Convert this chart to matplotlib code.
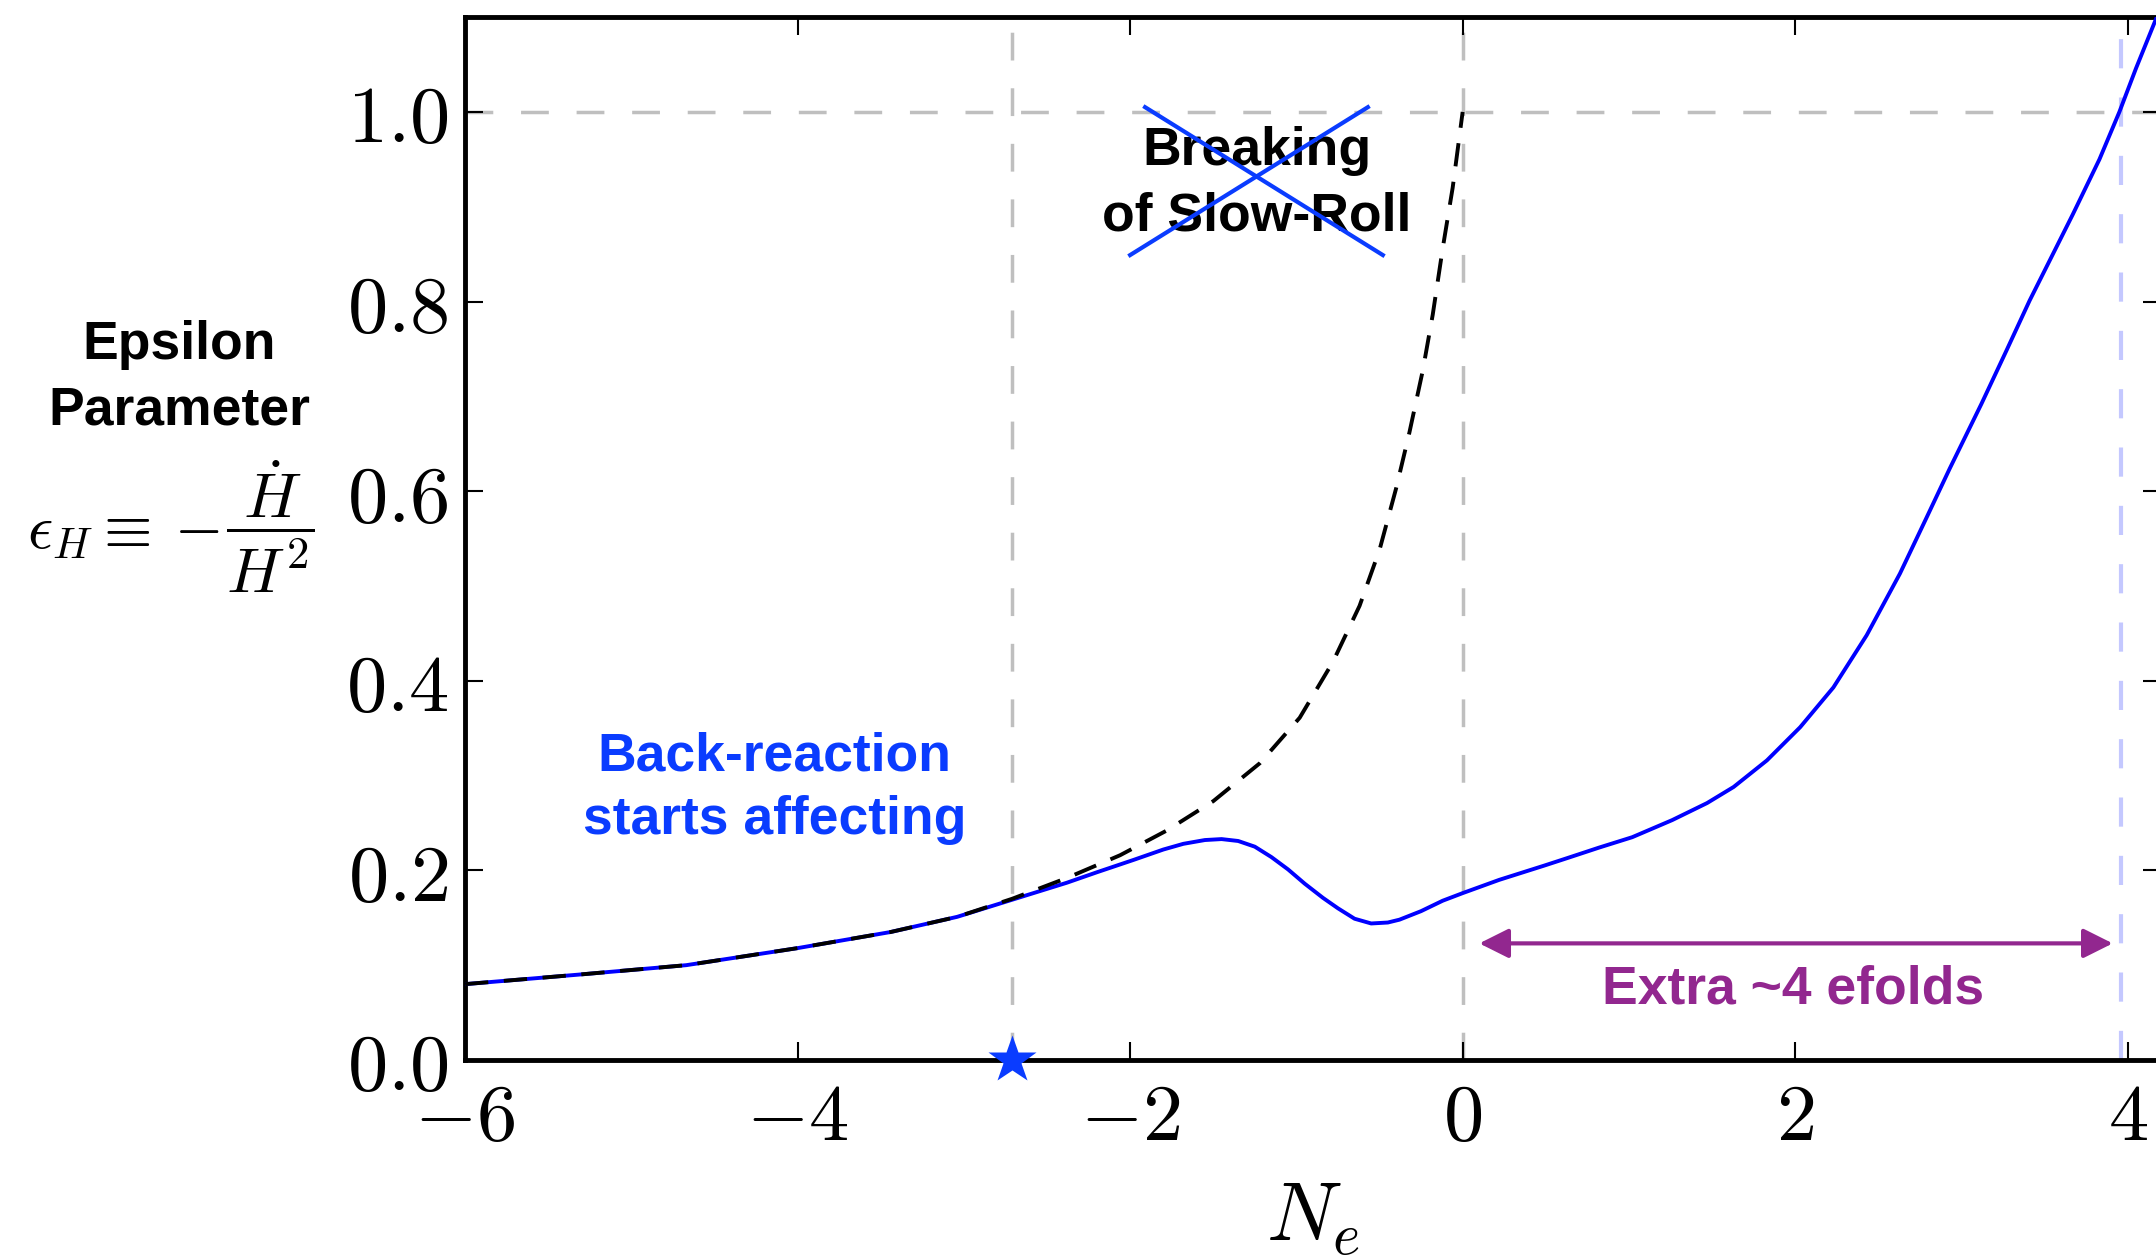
import numpy as np
import matplotlib
matplotlib.use("Agg")
import matplotlib.pyplot as plt
from matplotlib.ticker import FixedLocator, FuncFormatter

plt.rcParams['mathtext.fontset'] = 'cm'

# epsilon_H from the full run (blue)
N_full = [-6.0, -5.32, -4.67, -4.0, -3.44, -3.04, -2.71, -2.38, -2.2, -1.98, -1.8, -1.68,
          -1.55, -1.45, -1.35, -1.25, -1.15, -1.05, -0.95, -0.84, -0.75, -0.65, -0.55,
          -0.45, -0.38, -0.25, -0.12, 0.0, 0.22, 0.49, 0.63, 0.82, 1.02, 1.26, 1.47, 1.63,
          1.83, 2.03, 2.23, 2.43, 2.63, 2.79, 2.93, 3.12, 3.27, 3.41, 3.53, 3.67, 3.83,
          3.95, 4.05, 4.17]
eps_full = [0.080, 0.090, 0.100, 0.118, 0.135, 0.151, 0.169, 0.187, 0.198, 0.211, 0.222, 0.228,
            0.232, 0.233, 0.231, 0.225, 0.214, 0.201, 0.186, 0.171, 0.160, 0.149, 0.144,
            0.145, 0.148, 0.157, 0.168, 0.176, 0.190, 0.205, 0.213, 0.224, 0.235, 0.253, 0.271,
            0.288, 0.316, 0.351, 0.393, 0.448, 0.513, 0.572, 0.624, 0.692, 0.748, 0.801, 0.843,
            0.892, 0.950, 1.0, 1.046, 1.098]

# slow-roll estimate (black dashed)
N_sr = [-6.0, -5.32, -4.67, -4.0, -3.44, -3.04, -2.71, -2.38, -2.06, -1.78, -1.50, -1.22,
        -0.98, -0.78, -0.62, -0.50, -0.40, -0.32, -0.24, -0.18, -0.12, -0.06, 0.0]
eps_sr = [0.080, 0.090, 0.100, 0.118, 0.135, 0.151, 0.170, 0.192, 0.216, 0.242, 0.273, 0.313,
          0.361, 0.420, 0.479, 0.538, 0.603, 0.662, 0.727, 0.786, 0.856, 0.920, 1.0]

N_backreaction = -2.71
N_end_sr = 0.0
N_end_full = 3.96

xticks = [-6, -4, -2, 0, 2, 4]
yticks = [0.0, 0.2, 0.4, 0.6, 0.8, 1.0]

blue = '#0a3cff'
purple = '#92278f'
grey = '#bfbfbf'
bold = dict(family='Liberation Sans', weight='bold', fontsize=38.5)

fig = plt.figure(figsize=(21.56, 12.58), dpi=100)
ax = fig.add_axes([0.2157, 0.1574, 0.7866, 0.829])

ax.axhline(1.0, color=grey, lw=2.5, ls=(0, (8, 8)), zorder=1)
ax.axvline(N_backreaction, color=grey, lw=2.5, ls=(0, (8, 8)), zorder=1)
ax.axvline(N_end_sr, color=grey, lw=2.5, ls=(0, (8, 8)), zorder=1)
ax.axvline(N_end_full, color='#c4c8ff', lw=3, ls=(0, (7, 7)), zorder=1)

ax.plot(N_full, eps_full, color='#0000ff', lw=2.8, zorder=3)
ax.plot(N_sr, eps_sr, color='black', lw=2.8, ls=(0, (6, 4)), zorder=4)

ax.plot([N_backreaction], [0], marker='*', ms=36, color=blue, mec='none',
        clip_on=False, zorder=6)

# crossed-out "Breaking of Slow-Roll"
ax.text(-1.24, 0.924, 'Breaking\nof Slow-Roll', ha='center', va='center',
        color='black', linespacing=1.4, zorder=4, **bold)
ax.plot([-1.91, -0.48], [1.005, 0.849], color=blue, lw=3, zorder=5)
ax.plot([-2.00, -0.57], [0.849, 1.005], color=blue, lw=3, zorder=5)

ax.text(-4.14, 0.287, 'Back-reaction\nstarts affecting', ha='center', va='center',
        color=blue, linespacing=1.35, **bold)

ax.annotate('', xy=(3.91, 0.123), xytext=(0.10, 0.123),
            arrowprops=dict(arrowstyle='<|-|>', color=purple, lw=3,
                            mutation_scale=45, shrinkA=0, shrinkB=0))
ax.text(1.99, 0.074, 'Extra ~4 efolds', ha='center', va='center', color=purple, **bold)

ax.set_xlim(-6, 4.2)
ax.set_ylim(0, 1.1)
ax.xaxis.set_major_locator(FixedLocator(xticks))
ax.yaxis.set_major_locator(FixedLocator(yticks))
ax.xaxis.set_major_formatter(FuncFormatter(lambda v, p: r'$%d$' % v))
ax.yaxis.set_major_formatter(FuncFormatter(lambda v, p: r'$%.1f$' % v))
ax.tick_params(direction='in', top=True, right=True, length=13, width=1.5,
               labelsize=58)
ax.tick_params(axis='x', pad=14)
ax.tick_params(axis='y', pad=12)
for s in ax.spines.values():
    s.set_linewidth(3.5)

ax.set_xlabel(r'$N_e$', fontsize=60, labelpad=14)

fig.text(0.083, 0.6995, 'Epsilon\nParameter', ha='center', va='center',
         linespacing=1.4, **bold)
fig.text(0.0125, 0.5644, r'$\epsilon_H \equiv -$', ha='left', va='baseline',
         fontsize=45)
fig.text(0.1252, 0.581, r'$\dfrac{\dot{H}}{H^2}$', ha='center', va='center',
         fontsize=46)

fig.savefig('out.png', dpi=100)
